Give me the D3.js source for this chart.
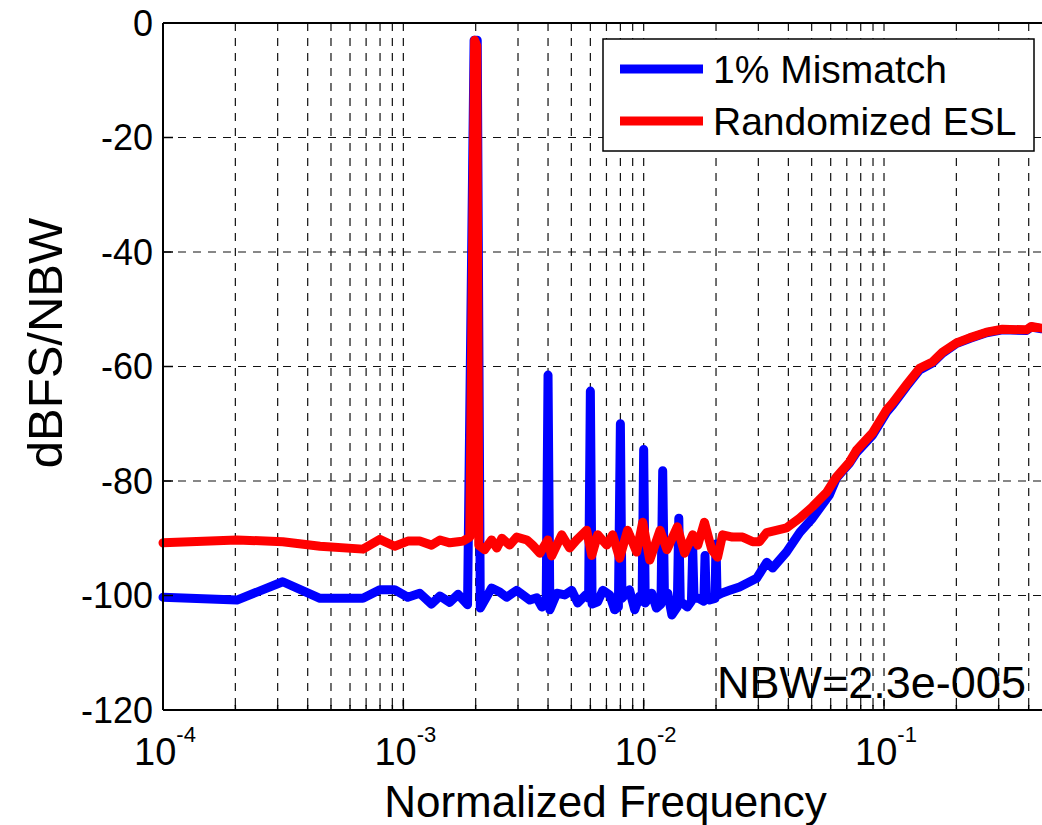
<!DOCTYPE html>
<html>
<head>
<meta charset="utf-8">
<script src="https://cdn.jsdelivr.net/npm/d3@7"></script>
<style>
  body { margin: 0; background: #fff; }
  svg { display: block; font-family: "Liberation Sans", Arial, sans-serif; }
</style>
</head>
<body>
<svg id="chart" width="1042" height="825"></svg>
<script>
// values
var blueF = [1e-4, 2.03e-4, 3.15e-4, 4.5e-4, 6.79e-4, 7.98e-4, 9.2e-4, 1.044e-3, 1.17e-3, 1.31e-3,
  1.42e-3, 1.56e-3, 1.69e-3, 1.85e-3, 1.97e-3, 2.03e-3, 2.09e-3, 2.33e-3, 2.52e-3, 2.69e-3,
  2.96e-3, 3.14e-3, 3.36e-3, 3.59e-3, 3.77e-3, 3.93e-3, 4.0e-3, 4.07e-3, 4.35e-3, 4.69e-3,
  5.02e-3, 5.32e-3, 5.74e-3, 5.9e-3, 6.0e-3, 6.1e-3, 6.44e-3, 6.76e-3, 7.22e-3, 7.57e-3,
  7.85e-3, 8.0e-3, 8.12e-3, 8.73e-3, 9.18e-3, 9.62e-3, 9.85e-3, 1.0e-2, 1.015e-2, 1.08e-2,
  1.13e-2, 1.18e-2, 1.2e-2, 1.22e-2, 1.26e-2, 1.31e-2, 1.38e-2, 1.4e-2, 1.42e-2, 1.52e-2,
  1.58e-2, 1.6e-2, 1.62e-2, 1.69e-2, 1.78e-2, 1.8e-2, 1.82e-2, 1.88e-2, 1.98e-2, 2.0e-2,
  2.02e-2, 2.11e-2, 2.28e-2, 2.506e-2, 2.95e-2, 3.25e-2, 3.44e-2, 3.93e-2, 4.46e-2, 5.04e-2,
  5.93e-2, 6.34e-2, 7.18e-2, 7.69e-2, 8.96e-2, 0.1024, 0.1084, 0.124, 0.1406, 0.159,
  0.175, 0.2, 0.227, 0.267, 0.311, 0.392, 0.41, 0.452, 0.5];
var blueDb = [-100.3, -100.8, -97.6, -100.5, -100.5, -99.0, -99.0, -100.3, -99.6, -101.5,
  -100.1, -101.2, -99.8, -101.6, -3, -3, -102.2, -98.7, -99.4, -100.3,
  -99.1, -99.9, -100.8, -100.4, -102, -101, -61.5, -102.5, -99.6, -99.9,
  -99.1, -101.3, -99.9, -100.5, -64.3, -101.5, -101.1, -99.1, -99.9, -102.5,
  -102, -70, -100.5, -99, -102.5, -100.1, -101, -74.5, -101.3, -99.6,
  -102.2, -101.5, -78.2, -100, -99.6, -103.4, -102, -86.5, -101, -102,
  -101, -92, -100.5, -100.5, -101, -93, -100.5, -100.8, -100.5, -91,
  -100, -99.6, -99.1, -98.5, -97, -94.2, -95.2, -92.4, -89, -86.5,
  -82.4, -79.5, -76.9, -75, -72, -68, -66.8, -63.5, -60.6, -59.4,
  -57.7, -56, -55.1, -54.1, -53.6, -53.7, -53.1, -53.4, -53.6];

var redF = [1e-4, 2.03e-4, 3.15e-4, 4.5e-4, 6.79e-4, 7.98e-4, 9.2e-4, 1.044e-3, 1.17e-3, 1.31e-3,
  1.42e-3, 1.56e-3, 1.69e-3, 1.77e-3, 1.89e-3, 1.98e-3, 2.02e-3, 2.06e-3, 2.18e-3, 2.33e-3,
  2.45e-3, 2.57e-3, 2.77e-3, 2.96e-3, 3.27e-3, 3.45e-3, 3.7e-3, 3.99e-3, 4.14e-3, 4.56e-3,
  4.92e-3, 5.26e-3, 5.79e-3, 6.08e-3, 6.44e-3, 7.02e-3, 7.43e-3, 7.94e-3, 8.57e-3, 9.35e-3,
  9.91e-3, 1.06e-2, 1.17e-2, 1.25e-2, 1.38e-2, 1.48e-2, 1.6e-2, 1.68e-2, 1.79e-2, 1.92e-2,
  2.03e-2, 2.13e-2, 2.34e-2, 2.58e-2, 2.84e-2, 3.03e-2, 3.25e-2, 3.93e-2, 4.46e-2, 5.04e-2,
  5.77e-2, 6.34e-2, 7.18e-2, 7.69e-2, 8.96e-2, 0.1024, 0.1084, 0.124, 0.1406, 0.159,
  0.175, 0.2, 0.227, 0.267, 0.311, 0.392, 0.41, 0.452, 0.5];
var redDb = [-90.8, -90.3, -90.6, -91.4, -91.9, -90.2, -91.4, -90.5, -90.5, -91.2,
  -90.3, -90.8, -90.6, -90.5, -89.8, -3, -4, -91.2, -92, -90.3,
  -91.7, -90, -91.2, -89.8, -90.3, -91.2, -92.6, -90.3, -93.1, -89.4,
  -91.7, -90.3, -88.6, -93, -89.4, -91.2, -89.4, -93.5, -88.6, -92.4,
  -87.2, -93.8, -88.6, -92, -88, -92.6, -89.4, -91.2, -87.2, -92,
  -93.3, -89.4, -89.8, -89.8, -90.6, -90.6, -89, -88.2, -86.5, -84.5,
  -82, -79.3, -76.7, -74.6, -71.6, -67.6, -66.4, -63.2, -60.3, -59.2,
  -57.5, -55.9, -55, -54, -53.5, -53.6, -53, -53.3, -53.5];

var yTicks = [0, -20, -40, -60, -80, -100, -120];
var xDecades = [-4, -3, -2, -1];
var seriesNames = ["1% Mismatch", "Randomized ESL"];
var seriesColors = ["#0000ff", "#ff0000"];
var noteText = "NBW=2.3e-005";

var plotL = 163, plotR = 1052, plotT = 23, plotB = 710;
var lineW = 9;

var svg = d3.select("#chart");

var x = d3.scaleLog().domain([1e-4, 0.5]).range([plotL, plotR]);
var y = d3.scaleLinear().domain([-120, 0]).range([plotB, plotT]);

// grid lines at every minor decade step
var minor = [];
xDecades.forEach(function(e) {
  for (var k = 1; k <= 9; k++) {
    var v = k * Math.pow(10, e);
    if (v <= 0.5) minor.push(v);
  }
});

var grid = svg.append("g");
grid.selectAll(".vgrid").data(minor.filter(function(d) { return d > 1e-4; })).enter()
  .append("line")
  .attr("x1", function(d) { return x(d); })
  .attr("x2", function(d) { return x(d); })
  .attr("y1", plotT).attr("y2", plotB)
  .attr("stroke", "#111").attr("stroke-width", 1.2)
  .attr("stroke-dasharray", "8,7");

grid.selectAll(".hgrid").data(yTicks.filter(function(d) { return d > -120 && d < 0; })).enter()
  .append("line")
  .attr("x1", plotL).attr("x2", plotR)
  .attr("y1", function(d) { return y(d); })
  .attr("y2", function(d) { return y(d); })
  .attr("stroke", "#111").attr("stroke-width", 1.2)
  .attr("stroke-dasharray", "8,7");

var line = d3.line()
  .x(function(d) { return x(d[0]); })
  .y(function(d) { return y(d[1]); });

svg.append("path")
  .datum(d3.zip(blueF, blueDb))
  .attr("d", line)
  .attr("fill", "none")
  .attr("stroke", seriesColors[0])
  .attr("stroke-width", lineW)
  .attr("stroke-linejoin", "round")
  .attr("stroke-linecap", "round");

svg.append("path")
  .datum(d3.zip(redF, redDb))
  .attr("d", line)
  .attr("fill", "none")
  .attr("stroke", seriesColors[1])
  .attr("stroke-width", lineW)
  .attr("stroke-linejoin", "round")
  .attr("stroke-linecap", "round");

// axes box
svg.append("line").attr("x1", plotL).attr("x2", plotR).attr("y1", plotB).attr("y2", plotB)
  .attr("stroke", "#000").attr("stroke-width", 2);
svg.append("line").attr("x1", plotL).attr("x2", plotR).attr("y1", plotT).attr("y2", plotT)
  .attr("stroke", "#000").attr("stroke-width", 2);
svg.append("line").attr("x1", plotL).attr("x2", plotL).attr("y1", plotT).attr("y2", plotB)
  .attr("stroke", "#000").attr("stroke-width", 2);

// inward ticks, longer at decades
function isDecade(d) {
  var l = Math.log10(d);
  return Math.abs(l - Math.round(l)) < 1e-6;
}
svg.selectAll(".xtick").data(minor).enter()
  .append("line")
  .attr("x1", function(d) { return x(d); })
  .attr("x2", function(d) { return x(d); })
  .attr("y1", plotB)
  .attr("y2", function(d) { return isDecade(d) ? plotB - 10 : plotB - 5; })
  .attr("stroke", "#000").attr("stroke-width", 1.5);

svg.selectAll(".ytick").data(yTicks).enter()
  .append("line")
  .attr("x1", plotL).attr("x2", plotL + 10)
  .attr("y1", function(d) { return y(d); })
  .attr("y2", function(d) { return y(d); })
  .attr("stroke", "#000").attr("stroke-width", 1.5);

// tick labels
svg.selectAll(".ylab").data(yTicks).enter()
  .append("text")
  .attr("x", 153)
  .attr("y", function(d) { return y(d); })
  .attr("dy", "0.36em")
  .attr("text-anchor", "end")
  .attr("font-size", 36)
  .text(function(d) { return d; });

var xl = svg.selectAll(".xlab").data(xDecades).enter()
  .append("text")
  .attr("x", function(d) { return x(Math.pow(10, d)) + 2; })
  .attr("y", 765)
  .attr("text-anchor", "middle")
  .attr("font-size", 38);
xl.append("tspan").text("10");
xl.append("tspan").attr("dy", -23).attr("font-size", 22).text(function(d) { return d; });

// axis titles
svg.append("text")
  .attr("x", (plotL + plotR) / 2 - 2)
  .attr("y", 817)
  .attr("text-anchor", "middle")
  .attr("font-size", 44)
  .text("Normalized Frequency");

svg.append("text")
  .attr("transform", "translate(62," + 343 + ") rotate(-90)")
  .attr("text-anchor", "middle")
  .attr("font-size", 49)
  .text("dBFS/NBW");

// legend
var lg = svg.append("g");
lg.append("rect")
  .attr("x", 603).attr("y", 39)
  .attr("width", 431).attr("height", 112)
  .attr("fill", "#fff").attr("stroke", "#000").attr("stroke-width", 1.5);
seriesNames.forEach(function(name, i) {
  lg.append("line")
    .attr("x1", 620).attr("x2", 703)
    .attr("y1", 69 + i * 52).attr("y2", 69 + i * 52)
    .attr("stroke", seriesColors[i]).attr("stroke-width", lineW);
  lg.append("text")
    .attr("x", 713).attr("y", 83 + i * 52)
    .attr("font-size", 39)
    .text(name);
});

svg.append("text")
  .attr("x", 717).attr("y", 698)
  .attr("font-size", 45)
  .text(noteText);
</script>
</body>
</html>
